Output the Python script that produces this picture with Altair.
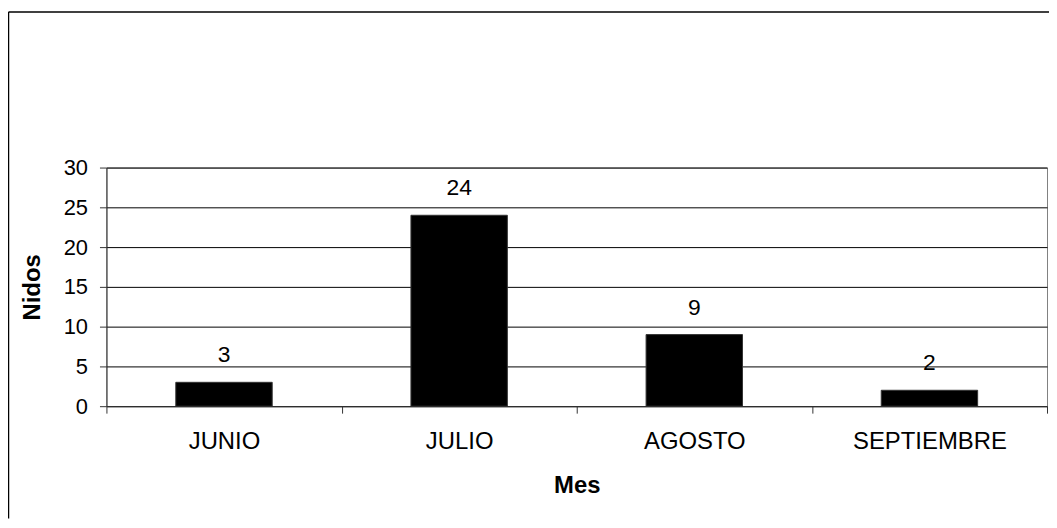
import altair as alt
import pandas as pd

months = ["JUNIO", "JULIO", "AGOSTO", "SEPTIEMBRE"]
nests = [3, 24, 9, 2]
y_ticks = [0, 5, 10, 15, 20, 25, 30]

df = pd.DataFrame({"Mes": months, "Nidos": nests})
FONT = "Liberation Sans"

x_enc = alt.X(
    "Mes:N",
    sort=months,
    scale=alt.Scale(paddingInner=0, paddingOuter=0),
    axis=alt.Axis(
        title="Mes",
        labelAngle=0,
        tickBand="extent",
        tickSize=7,
        tickColor="#333333",
        domainColor="#333333",
        labelPadding=17,
        labelFontSize=24,
        labelColor="black",
        titleFontSize=24,
        titleFontWeight="bold",
        titleColor="black",
        titleX=473,
        titleY=80,
        titleBaseline="middle",
        grid=False,
    ),
)
y_enc = alt.Y(
    "Nidos:Q",
    scale=alt.Scale(domain=[0, 30], nice=False),
    axis=alt.Axis(
        title="Nidos",
        values=y_ticks,
        tickSize=7,
        tickColor="#333333",
        domainColor="#333333",
        labelPadding=12,
        labelFontSize=22,
        labelColor="black",
        labelOverlap=False,
        grid=True,
        gridColor="black",
        gridWidth=1,
        titleFontSize=24,
        titleFontWeight="bold",
        titleColor="black",
        titleX=-74,
        titleY=120,
        titleBaseline="middle",
    ),
)

bars = alt.Chart(df).mark_bar(
    width=alt.RelativeBandSize(0.41), color="black", stroke="#333333", strokeWidth=1
).encode(x=x_enc, y=y_enc)

labels = alt.Chart(df).mark_text(
    dy=-20, baseline="alphabetic", fontSize=23, font=FONT, color="black"
).encode(x=x_enc, y=y_enc, text="Nidos:Q")

frame_src = alt.Data(values=[{"a": 1}])
left_frame = alt.Chart(frame_src).mark_rule(color="black", strokeWidth=1.5).encode(
    x=alt.value(-98.5), y=alt.value(-156.5), y2=alt.value(353)
)
top_frame = alt.Chart(frame_src).mark_rule(color="black", strokeWidth=1.5).encode(
    x=alt.value(-98.5), x2=alt.value(952), y=alt.value(-156.5)
)

chart = (
    alt.layer(bars, labels, left_frame, top_frame)
    .properties(
        width=946,
        height=240,
        autosize=alt.AutoSizeParams(type="none"),
        padding={"left": 99, "top": 159, "right": 2, "bottom": 113},
        background="white",
    )
    .configure_view(stroke="#808080", strokeWidth=1)
    .configure_axis(labelFont=FONT, titleFont=FONT)
    .configure_text(font=FONT)
)

chart.save("out.html", embed_options={"renderer": "svg", "actions": False})
